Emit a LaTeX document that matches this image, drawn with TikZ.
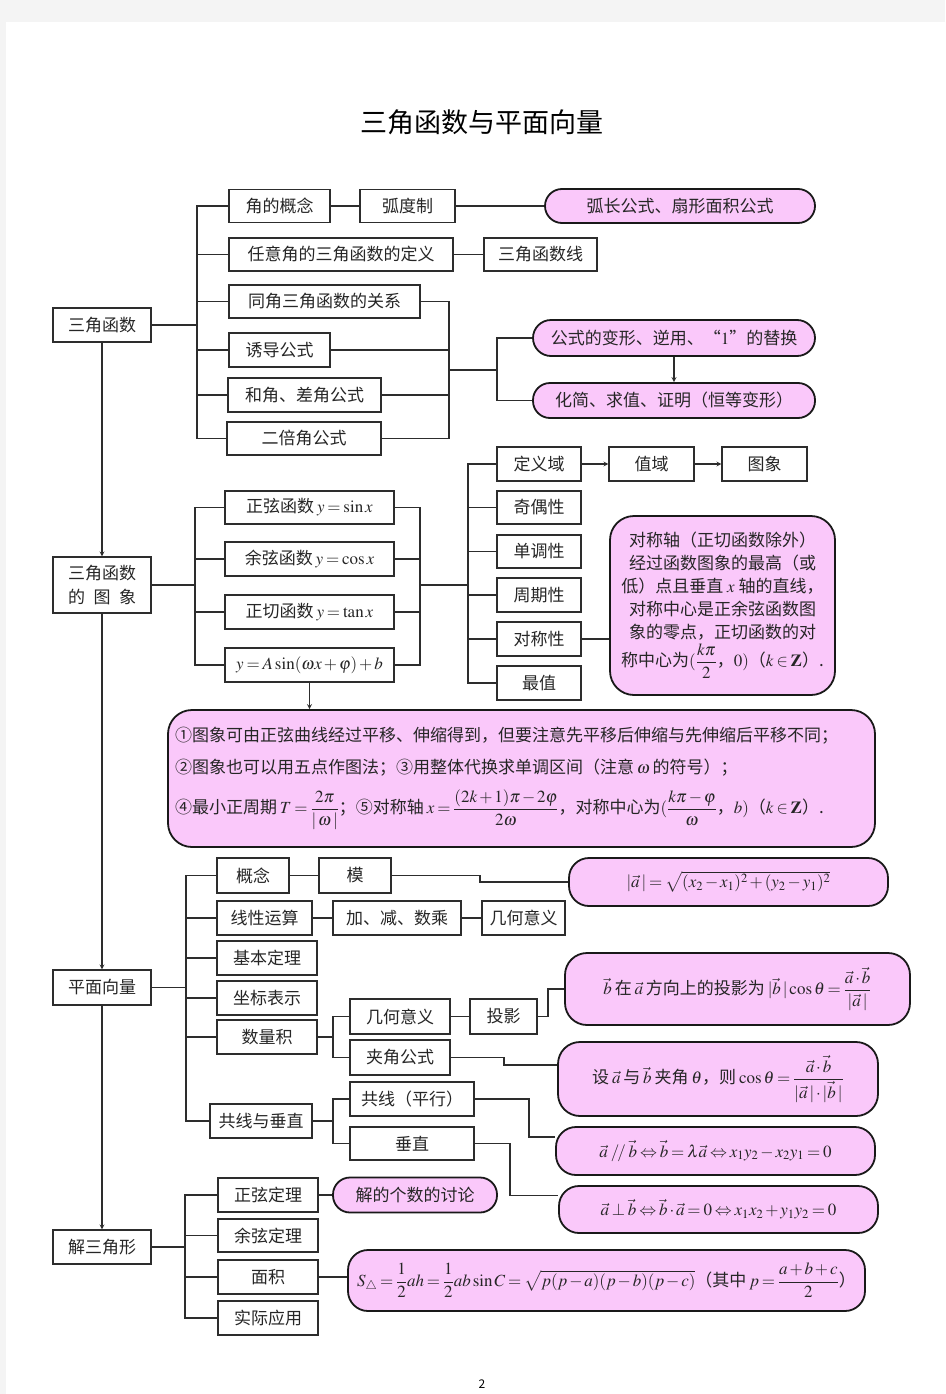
\documentclass[tikz,border=0pt]{standalone}
\usepackage{mathptmx}
\usepackage{amsmath}
\usepackage{fontspec}
\setmainfont{Noto Sans CJK SC}
\usetikzlibrary{calc,positioning}
\definecolor{rosa}{RGB}{250,200,250}
\definecolor{strich}{RGB}{45,45,45}
\definecolor{seite}{RGB}{244,244,244}
\thickmuskip=3mu
\medmuskip=2mu
\tikzset{
    >=stealth,
    kasten/.style={
        rectangle,
        draw=strich, line width=1.1pt,
        minimum height=34pt,
        inner sep=0pt,
        text=black!85,
        text centered,
        font=\fontsize{17}{22}\selectfont
    },
    pille/.style={
        kasten,
        fill=rosa,
        draw=black!90, line width=1.8pt,
        rounded corners=17pt
    },
    notiz/.style={
        pille,
        rounded corners=24pt
    },
    linie/.style={draw=strich, line width=1.2pt}
}

\begin{document}
\begin{tikzpicture}[x=1pt,y=-1pt]
\fill[seite] (0,0) rectangle (945,1394);
\fill[white] (6,22) rectangle (945,1394);
\useasboundingbox (0,0) rectangle (945,1394);

\node[font=\fontsize{27}{30}\selectfont] (titel) at (482,122) {三角函数与平面向量};

% Teil 1: trigonometric functions
\node[kasten, minimum width=98pt] (sjhs) at (102,325) {三角函数};
\node[kasten, minimum width=101pt, minimum height=33pt] (jgn) at (279.5,206) {角的概念};
\node[kasten, minimum width=95pt, minimum height=33pt] (hdz) at (407.5,206) {弧度制};
\node[pille, minimum width=270pt] (hcgs) at (680,206) {弧长公式、扇形面积公式};
\node[kasten, minimum width=224pt, minimum height=33pt] (rydy) at (341,254.5) {任意角的三角函数的定义};
\node[kasten, minimum width=113pt, minimum height=33pt] (sjx) at (540.5,254.5) {三角函数线};
\node[kasten, minimum width=191pt, minimum height=33pt] (tjgx) at (324.5,301.5) {同角三角函数的关系};
\node[kasten, minimum width=101pt] (ydgs) at (279.5,350) {诱导公式};
\node[kasten, minimum width=153pt] (hjgs) at (304.5,395) {和角、差角公式};
\node[kasten, minimum width=154pt, minimum height=33pt] (ebgs) at (304,438.5) {二倍角公式};
\node[pille, minimum width=282pt, minimum height=36pt, rounded corners=18pt] (bxny) at (674,338) {公式的变形、逆用、“$1$”的替换};
\node[pille, minimum width=282pt, minimum height=35pt] (hjqz) at (674,400.5) {化简、求值、证明（恒等变形）};

\coordinate (a1) at (197,325);
\coordinate (a2) at (449,370);
\coordinate (a3) at (497,370);
\draw[linie] (sjhs) -- (a1);
\draw[linie] (jgn.west) -| (a1 |- ebgs) -- (ebgs.west);
\foreach \n in {rydy,tjgx,ydgs,hjgs}
    \draw[linie] (a1 |- \n) -- (\n.west);
\draw[linie] (jgn) -- (hdz);
\draw[linie] (hdz) -- (hcgs);
\draw[linie] (rydy) -- (sjx);
\draw[linie] (tjgx.east) -| (a2 |- ebgs) -- (ebgs.east);
\foreach \n in {ydgs,hjgs}
    \draw[linie] (\n.east) -- (a2 |- \n);
\draw[linie] (a2) -- (a3);
\draw[linie] (bxny.west) -| (a3 |- hjqz) -- (hjqz.west);
\draw[linie,->] (bxny) -- (hjqz);

% Teil 2: graphs
\node[kasten, minimum width=98pt, minimum height=56pt, align=center] (txsj) at (102,585) {三角函数\\[2pt]的\hspace{8.5pt}图\hspace{8.5pt}象};
\node[kasten, minimum width=169pt, minimum height=33pt] (zxhs) at (309.5,507.5) {正弦函数\,$y=\sin x$};
\node[kasten, minimum width=169pt] (yxhs) at (309.5,559) {余弦函数\,$y=\cos x$};
\node[kasten, minimum width=169pt] (zqhs) at (309.5,612) {正切函数\,$y=\tan x$};
\node[kasten, minimum width=169pt] (yasin) at (309.5,665) {$y=A\sin(\omega x+\varphi)+b$};
\node[kasten, minimum width=84pt] (dyy) at (539,464) {定义域};
\node[kasten, minimum width=85pt] (zy) at (651.5,464) {值域};
\node[kasten, minimum width=85pt] (tx) at (764.5,464) {图象};
\node[kasten, minimum width=84pt, minimum height=33pt] (jox) at (539,507.5) {奇偶性};
\node[kasten, minimum width=84pt, minimum height=33pt] (ddx) at (539,551.5) {单调性};
\node[kasten, minimum width=84pt] (zqx) at (539,595) {周期性};
\node[kasten, minimum width=84pt] (dcx) at (539,639) {对称性};
\node[kasten, minimum width=84pt] (zz) at (539,683) {最值};
\node[notiz, minimum width=225pt, minimum height=179pt, align=center,
      font=\fontsize{17}{23}\selectfont] (dcnote) at (722.5,605.5)
    {对称轴（正切函数除外）\\经过函数图象的最高（或\\低）点且垂直 $x$ 轴的直线，\\对称中心是正余弦函数图\\象的零点，正切函数的对\\[2pt]称中心为$(\dfrac{k\pi}{2}$，$0)$（$k\in\mathbf{Z}$）.};
\node[notiz, minimum width=707pt, minimum height=137pt, text width=693pt, align=left] (sinnote) at (521.5,778.5)
    {①图象可由正弦曲线经过平移、伸缩得到，但要注意先平移后伸缩与先伸缩后平移不同；\\[10pt]
     ②图象也可以用五点作图法；③用整体代换求单调区间（注意\,$\omega$\,的符号）；\\[12pt]
     ④最小正周期\,$T=\dfrac{2\pi}{|\,\omega\,|}$；⑤对称轴\,$x=\dfrac{(2k+1)\pi-2\varphi}{2\omega}$，对称中心为$(\dfrac{k\pi-\varphi}{\omega}$，$b)$（$k\in\mathbf{Z}$）.};

\coordinate (b1) at (195,585);
\coordinate (b2) at (420,585);
\coordinate (b3) at (468,585);
\draw[linie] (txsj) -- (b1);
\draw[linie] (zxhs.west) -| (b1 |- yasin) -- (yasin.west);
\foreach \n in {yxhs,zqhs}
    \draw[linie] (b1 |- \n) -- (\n.west);
\draw[linie] (zxhs.east) -| (b2 |- yasin) -- (yasin.east);
\foreach \n in {yxhs,zqhs}
    \draw[linie] (\n.east) -- (b2 |- \n);
\draw[linie] (b2) -- (b3);
\draw[linie] (dyy.west) -| (b3 |- zz) -- (zz.west);
\foreach \n in {jox,ddx,zqx,dcx}
    \draw[linie] (b3 |- \n) -- (\n.west);
\draw[linie,->] (dyy) -- (zy);
\draw[linie,->] (zy) -- (tx);
\draw[linie] (dcx.east) -- (dcx.east -| dcnote.west);
\draw[linie,->] (yasin) -- (yasin |- sinnote.north);

% Teil 3: vectors
\node[kasten, minimum width=98pt, minimum height=35pt] (pmxl) at (102,987.5) {平面向量};
\node[kasten, minimum width=72pt, minimum height=35pt] (gn) at (253,875.5) {概念};
\node[kasten, minimum width=72pt, minimum height=35pt] (mo) at (355,875.5) {模};
\node[pille, minimum width=319pt, minimum height=48pt, rounded corners=20pt] (mopill) at (728.5,882)
    {$|\vec{a}\,|=\sqrt{(x_2-x_1)^2+(y_2-y_1)^2}$};
\node[kasten, minimum width=95pt] (xxys) at (264.5,918) {线性运算};
\node[kasten, minimum width=128pt] (jjsc) at (397,918) {加、减、数乘};
\node[kasten, minimum width=83pt] (jhyy1) at (523.5,918) {几何意义};
\node[kasten, minimum width=100pt] (jbdl) at (267,958) {基本定理};
\node[kasten, minimum width=100pt] (zbbs) at (267,998) {坐标表示};
\node[kasten, minimum width=100pt] (slj) at (267,1037) {数量积};
\node[kasten, minimum width=100pt, minimum height=35pt] (jhyy2) at (400,1016.5) {几何意义};
\node[kasten, minimum width=67pt, minimum height=35pt] (ty) at (503.5,1016.5) {投影};
\node[pille, minimum width=345pt, minimum height=72pt, rounded corners=22pt] (typill) at (737.5,989)
    {$\vec{b}$\,在\,$\vec{a}$\,方向上的投影为\,$|\vec{b}\,|\cos\theta=\dfrac{\vec{a}\cdot\vec{b}}{|\vec{a}\,|}$};
\node[kasten, minimum width=100pt, minimum height=35pt] (jjgs) at (400,1057.5) {夹角公式};
\node[pille, minimum width=320pt, minimum height=74pt, rounded corners=22pt] (jjpill) at (718,1079)
    {设\,$\vec{a}$\,与\,$\vec{b}$\,夹角\,$\theta$，则\,$\cos\theta=\dfrac{\vec{a}\cdot\vec{b}}{|\vec{a}\,|\cdot|\vec{b}\,|}$};
\node[kasten, minimum width=102pt] (gxcz) at (261,1121) {共线与垂直};
\node[kasten, minimum width=124pt] (gxpx) at (412,1099) {共线（平行）};
\node[kasten, minimum width=124pt, minimum height=33pt] (cz) at (412,1143.5) {垂直};
\node[pille, minimum width=319pt, minimum height=48pt, rounded corners=20pt] (gxpill) at (715.5,1151)
    {$\vec{a}\;/\!/\;\vec{b}\Leftrightarrow\vec{b}=\lambda\vec{a}\Leftrightarrow x_1y_2-x_2y_1=0$};
\node[pille, minimum width=319pt, minimum height=47pt, rounded corners=20pt] (czpill) at (718.5,1209.5)
    {$\vec{a}\perp\vec{b}\Leftrightarrow\vec{b}\cdot\vec{a}=0\Leftrightarrow x_1x_2+y_1y_2=0$};

\coordinate (c1) at (186,987.5);
\coordinate (c2) at (333,0);
\coordinate (k1) at (480,0);
\coordinate (k2) at (548,0);
\coordinate (k3) at (504,0);
\coordinate (k4) at (529,0);
\coordinate (k5) at (510,0);
\draw[linie] (pmxl) -- (c1);
\draw[linie] (gn.west) -| (c1 |- gxcz) -- (gxcz.west);
\foreach \n in {xxys,jbdl,zbbs,slj}
    \draw[linie] (c1 |- \n) -- (\n.west);
\draw[linie] (gn) -- (mo);
\draw[linie] (mo.east) -| (k1 |- mopill) -- (mopill.west);
\draw[linie] (xxys) -- (jjsc);
\draw[linie] (jjsc) -- (jhyy1);
\draw[linie] (slj.east) -- (c2 |- slj);
\draw[linie] (jhyy2.west) -| (c2 |- jjgs) -- (jjgs.west);
\draw[linie] (jhyy2) -- (ty);
\draw[linie] (ty.east) -| (k2 |- typill) -- (typill.west);
\draw[linie] (jjgs.east) -| (k3 |- jjpill.175) -- (jjpill.175);
\draw[linie] (gxcz.east) -- (c2 |- gxcz);
\draw[linie] (gxpx.west) -| (c2 |- cz) -- (cz.west);
\draw[linie] (gxpx.east) -| (k4 |- gxpill.175) -- (gxpill.175);
\draw[linie] (cz.east) -| (k5 |- czpill.175) -- (czpill.175);

% Teil 4: solving triangles
\node[kasten, minimum width=98pt] (jsjx) at (102,1247) {解三角形};
\node[kasten, minimum width=100pt] (zxdl) at (268,1195) {正弦定理};
\node[pille, minimum width=164pt, minimum height=35pt] (jdpill) at (415,1195) {解的个数的讨论};
\node[kasten, minimum width=100pt, minimum height=33pt] (yxdl) at (268,1235.5) {余弦定理};
\node[kasten, minimum width=100pt] (mj) at (268,1277) {面积};
\node[pille, minimum width=517pt, minimum height=61pt, rounded corners=20pt] (mjpill) at (606.5,1280.5)
    {$S_{\triangle}=\dfrac{1}{2}ah=\dfrac{1}{2}ab\sin C=\sqrt{p(p-a)(p-b)(p-c)}$（其中\,$p=\dfrac{a+b+c}{2}$）};
\node[kasten, minimum width=100pt] (sjyy) at (268,1318) {实际应用};

\coordinate (d1) at (185,1247);
\draw[linie] (jsjx) -- (d1);
\draw[linie] (zxdl.west) -| (d1 |- sjyy) -- (sjyy.west);
\foreach \n in {yxdl,mj}
    \draw[linie] (d1 |- \n) -- (\n.west);
\draw[linie] (zxdl) -- (jdpill);
\draw[linie] (mj.east) -- (mj.east -| mjpill.west);

% main chain
\draw[linie,->] (sjhs) -- (txsj);
\draw[linie,->] (txsj) -- (pmxl);
\draw[linie,->] (pmxl) -- (jsjx);

\node[font=\fontsize{12}{14}\selectfont] (seitenzahl) at (482,1384) {2};
\end{tikzpicture}
\end{document}
